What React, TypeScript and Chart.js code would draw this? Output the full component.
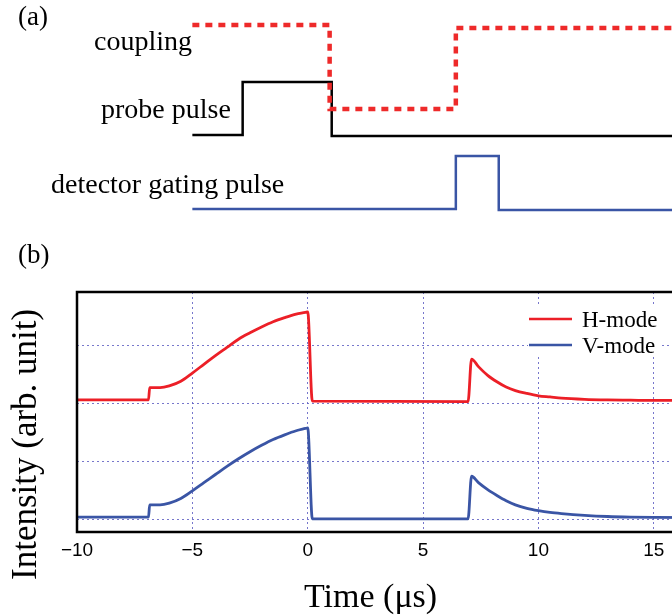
import React, { useEffect, useRef } from 'react';
import { Chart, registerables } from 'chart.js';

Chart.register(...registerables);

// ---------- panel (b) data ----------
const TIME_US = [
  -10, -6.9, -6.85, -6.4, -6.0, -5.5, -5.0, -4.5, -4.0, -3.5, -3.0, -2.5, -2.0, -1.5, -1.0, -0.5, -0.1, 0.0,
  0.2, 6.95, 7.1, 7.4, 7.8, 8.2, 8.6, 9.0, 9.5, 10.0, 10.5, 11.0, 12.0, 13.0, 14.0, 15.0, 18.0,
];
const H_MODE = [
  2.06, 2.06, 2.27, 2.27, 2.3, 2.38, 2.52, 2.67, 2.82, 2.96, 3.1, 3.21, 3.31, 3.4, 3.47, 3.53, 3.56, 3.57,
  2.04, 2.03, 2.76, 2.63, 2.48, 2.37, 2.28, 2.22, 2.17, 2.13, 2.11, 2.09, 2.07, 2.06, 2.055, 2.05, 2.05,
];
const V_MODE = [
  0.05, 0.05, 0.26, 0.26, 0.29, 0.37, 0.5, 0.64, 0.78, 0.92, 1.05, 1.17, 1.28, 1.38, 1.46, 1.53, 1.57, 1.58,
  0.02, 0.02, 0.75, 0.64, 0.52, 0.42, 0.33, 0.26, 0.2, 0.16, 0.13, 0.11, 0.08, 0.06, 0.05, 0.045, 0.04,
];
const SERIES_LABELS = ['H-mode', 'V-mode'];
const X_TICKS = [-10, -5, 0, 5, 10, 15];
const X_TICK_LABELS = ['\u221210', '\u22125', '0', '5', '10', '15'];
const Y_GRID = [0, 1, 2, 3];

// ---------- panel (a) timing diagram ----------
const COUPLING_T = [-5.0, 0.95, 0.95, 6.42, 6.42, 18];
const COUPLING_LEVEL = [21.5, 21.5, 13.1, 13.1, 21.2, 21.2];
const PROBE_T = [-5.0, -2.82, -2.82, 1.04, 1.04, 18];
const PROBE_LEVEL = [10.5, 10.5, 15.8, 15.8, 10.4, 10.4];
const GATE_T = [-5.0, 6.42, 6.42, 8.28, 8.28, 18];
const GATE_LEVEL = [3.1, 3.1, 8.4, 8.4, 3.0, 3.0];

const SERIF = "'Liberation Serif', 'Times New Roman', serif";
const SANS = "'Liberation Sans', Arial, sans-serif";
const RED = '#ec1f27';
const BLUE = '#3a55a5';
const GRID = 'rgba(95,95,195,0.85)';

const pts = (xs: number[], ys: number[]) => xs.map((x, i) => ({ x, y: ys[i] }));

const framePlugin = {
  id: 'frame',
  afterDraw(chart: any) {
    const { ctx, chartArea } = chart;
    const { left, top, right, bottom } = chartArea;
    ctx.save();
    ctx.strokeStyle = '#000';
    ctx.lineWidth = 2.5;
    ctx.strokeRect(left, top, right - left, bottom - top);
    ctx.restore();
  },
};

const legendPlugin = {
  id: 'innerLegend',
  afterDatasetsDraw(chart: any) {
    const { ctx, chartArea } = chart;
    const { left, top } = chartArea;
    ctx.save();
    ctx.fillStyle = '#fff';
    ctx.fillRect(left + 451, top + 15, 131, 49);
    chart.data.datasets.forEach((ds: any, i: number) => {
      const y = top + 27 + i * 26;
      ctx.strokeStyle = ds.borderColor;
      ctx.lineWidth = 2.5;
      ctx.beginPath();
      ctx.moveTo(left + 452, y);
      ctx.lineTo(left + 495, y);
      ctx.stroke();
      ctx.fillStyle = '#000';
      ctx.font = `23px ${SERIF}`;
      ctx.textAlign = 'left';
      ctx.textBaseline = 'alphabetic';
      ctx.fillText(ds.label, left + 505, top + 35 + i * 26);
    });
    ctx.restore();
  },
};

function Label({ text, left, baseline, size }: { text: string; left: number; baseline: number; size: number }) {
  return (
    <div
      style={{
        position: 'absolute',
        left,
        top: baseline - 0.8375 * size,
        fontFamily: SERIF,
        fontSize: size,
        lineHeight: `${size}px`,
        whiteSpace: 'nowrap',
        color: '#000',
      }}
    >
      {text}
    </div>
  );
}

export default function App() {
  const topRef = useRef<HTMLCanvasElement>(null);
  const botRef = useRef<HTMLCanvasElement>(null);

  useEffect(() => {
    const topChart = new Chart(topRef.current as HTMLCanvasElement, {
      type: 'line',
      data: {
        datasets: [
          {
            label: 'coupling',
            data: pts(COUPLING_T, COUPLING_LEVEL),
            borderColor: '#ee2a2a',
            borderWidth: 4.5,
            borderDash: [7, 6],
            borderCapStyle: 'butt',
            pointRadius: 0,
            tension: 0,
            clip: false as any,
          },
          {
            label: 'probe pulse',
            data: pts(PROBE_T, PROBE_LEVEL),
            borderColor: '#000',
            borderWidth: 2.5,
            pointRadius: 0,
            tension: 0,
            clip: false as any,
          },
          {
            label: 'detector gating pulse',
            data: pts(GATE_T, GATE_LEVEL),
            borderColor: BLUE,
            borderWidth: 2.5,
            pointRadius: 0,
            tension: 0,
            clip: false as any,
          },
        ],
      } as any,
      options: {
        animation: false,
        responsive: false,
        layout: { padding: { left: 77, right: 17, top: 0, bottom: 0 } },
        plugins: { legend: { display: false }, tooltip: { enabled: false } },
        scales: {
          x: { type: 'linear', min: -10, max: 18, display: false },
          y: { type: 'linear', min: 0, max: 24, display: false },
        },
      } as any,
    });

    const gridCommon = { color: GRID, lineWidth: 1, drawTicks: false };
    const botChart = new Chart(botRef.current as HTMLCanvasElement, {
      type: 'line',
      data: {
        datasets: [
          {
            label: SERIES_LABELS[0],
            data: pts(TIME_US, H_MODE),
            borderColor: RED,
            borderWidth: 2.8,
            pointRadius: 0,
            cubicInterpolationMode: 'monotone',
          },
          {
            label: SERIES_LABELS[1],
            data: pts(TIME_US, V_MODE),
            borderColor: BLUE,
            borderWidth: 2.8,
            pointRadius: 0,
            cubicInterpolationMode: 'monotone',
          },
        ],
      } as any,
      options: {
        animation: false,
        responsive: false,
        layout: { padding: { left: 77, right: 17, top: 52, bottom: 44 } },
        plugins: { legend: { display: false }, tooltip: { enabled: false } },
        scales: {
          x: {
            type: 'linear',
            min: -10,
            max: 18,
            afterBuildTicks: (s: any) => {
              s.ticks = X_TICKS.map((v) => ({ value: v }));
            },
            afterFit: (s: any) => {
              s.height = 40;
            },
            grid: gridCommon,
            border: { display: false, dash: [2, 3] },
            ticks: {
              padding: 7,
              color: '#000',
              autoSkip: false,
              maxRotation: 0,
              font: { family: SANS, size: 19 },
              callback: (_v: any, i: number) => X_TICK_LABELS[i],
            },
          },
          y: {
            type: 'linear',
            min: -0.206,
            max: 3.91,
            afterBuildTicks: (s: any) => {
              s.ticks = Y_GRID.map((v) => ({ value: v }));
            },
            afterFit: (s: any) => {
              s.width = 0;
            },
            grid: gridCommon,
            border: { display: false, dash: [2, 3] },
            ticks: { display: false },
          },
        },
      } as any,
      plugins: [legendPlugin, framePlugin],
    });

    return () => {
      topChart.destroy();
      botChart.destroy();
    };
  }, []);

  return (
    <div
      style={{
        position: 'fixed',
        left: 0,
        top: 0,
        width: 672,
        height: 616,
        overflow: 'hidden',
        background: '#fff',
      }}
    >
      <canvas
        ref={topRef}
        width={740}
        height={240}
        style={{ position: 'absolute', left: 0, top: 0, width: 740, height: 240 }}
      />
      <canvas
        ref={botRef}
        width={740}
        height={376}
        style={{ position: 'absolute', left: 0, top: 240, width: 740, height: 376 }}
      />
      <Label text="(a)" left={18} baseline={26} size={27} />
      <Label text="coupling" left={94} baseline={50} size={28} />
      <Label text="probe pulse" left={101} baseline={118} size={28} />
      <Label text="detector gating pulse" left={51} baseline={193} size={28} />
      <Label text="(b)" left={18} baseline={264} size={27} />
      <Label text="Time (μs)" left={304} baseline={607} size={34} />
      <div
        style={{
          position: 'absolute',
          left: 6.5,
          top: 580,
          transform: 'rotate(-90deg)',
          transformOrigin: 'left top',
          fontFamily: SERIF,
          fontSize: 35,
          lineHeight: '35px',
          whiteSpace: 'nowrap',
          color: '#000',
        }}
      >
        Intensity (arb. unit)
      </div>
    </div>
  );
}
